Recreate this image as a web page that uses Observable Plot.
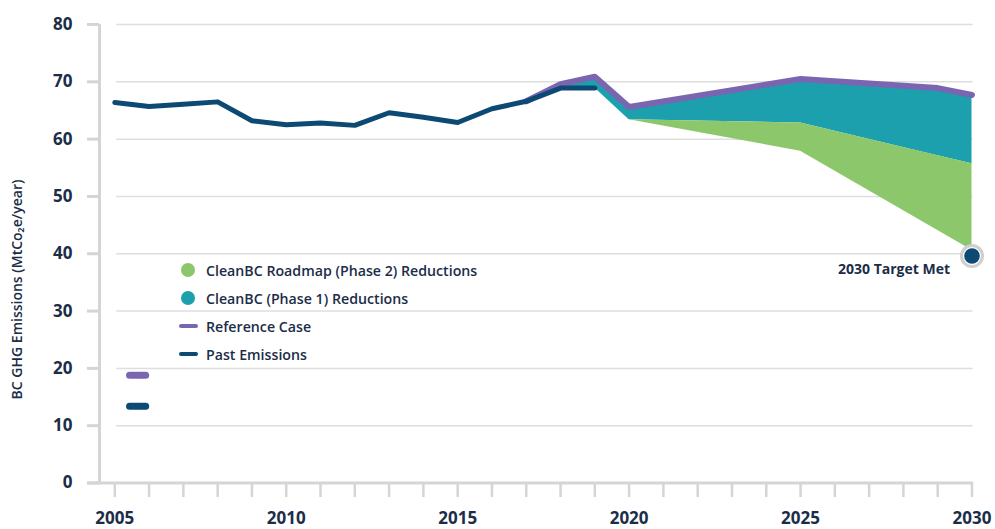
<!DOCTYPE html>
<html>
<head>
<meta charset="utf-8">
<script src="https://cdn.jsdelivr.net/npm/d3@7"></script>
<script src="https://cdn.jsdelivr.net/npm/@observablehq/plot@0.6"></script>
<style>
  html, body { margin: 0; padding: 0; background: #fff; }
  #wrap { position: relative; width: 995px; height: 529px; font-family: "Open Sans", sans-serif; }
  #legend { position: absolute; left: 178px; top: 256px; color: #1c2d48; font-size: 14.2px; font-weight: 600; }
  .row { display: flex; align-items: center; height: 28px; }
  .sw { width: 20px; display: flex; justify-content: center; margin-right: 8px; }
  .dot { width: 14px; height: 14px; border-radius: 50%; }
  .ln { width: 19px; height: 4px; border-radius: 2px; }
</style>
</head>
<body>
<div id="wrap"></div>
<script>
// ---- data ----
const pastYears = [2005, 2006, 2007, 2008, 2009, 2010, 2011, 2012, 2013, 2014, 2015, 2016, 2017, 2018, 2019];
const pastValues = [66.4, 65.7, 66.1, 66.5, 63.2, 62.5, 62.8, 62.4, 64.6, 63.8, 62.9, 65.3, 66.6, 68.9, 68.9];

const refYears = [2017, 2018, 2019, 2020, 2025, 2029, 2030];
const refValues = [66.6, 69.6, 70.9, 65.6, 70.5, 68.9, 67.7];
const phase1Values = [66.6, 68.8, 68.9, 63.4, 62.8, 57.1, 55.7]; // lower edge of Phase 1 reductions

const phase2Years = [2020, 2025, 2030];
const phase2Top = [63.4, 62.8, 55.7];
const phase2Values = [63.4, 57.9, 40.6];

const targetYear = [2030];
const targetValue = [39.6];
const targetLabel = ["2030 Target Met"];

const strayRefX = [2005.43, 2005.9];
const strayRefY = [18.8, 18.8];
const strayPastX = [2005.43, 2005.9];
const strayPastY = [13.4, 13.4];

const yTicks = [0, 10, 20, 30, 40, 50, 60, 70, 80];
const gridTicks = [10, 20, 30, 40, 50, 60, 70, 80];
const xTicks = d3.range(2005, 2031);
const yTitle = "BC GHG Emissions (MtCo\u2082e/year)";

const legendItems = [
  {label: "CleanBC Roadmap (Phase 2) Reductions", type: "dot", color: "#8dc76b"},
  {label: "CleanBC (Phase 1) Reductions", type: "dot", color: "#1ca0ad"},
  {label: "Reference Case", type: "line", color: "#7a66b0"},
  {label: "Past Emissions", type: "line", color: "#0c4a74"}
];

// ---- tables ----
const past = pastYears.map((x, i) => ({x, y: pastValues[i]}));
const ref = refYears.map((x, i) => ({x, y: refValues[i], y1: phase1Values[i]}));
const p2 = phase2Years.map((x, i) => ({x, y1: phase2Values[i], y2: phase2Top[i]}));
const target = targetYear.map((x, i) => ({x, y: targetValue[i], label: targetLabel[i]}));
const strayRef = strayRefX.map((x, i) => ({x, y: strayRefY[i]}));
const strayPast = strayPastX.map((x, i) => ({x, y: strayPastY[i]}));

const navy = "#0c4a74", purple = "#7a66b0", teal = "#1ca0ad", green = "#8dc76b";
const axisGrey = "#d5d5d5", textCol = "#1c2d48";

const chart = Plot.plot({
  width: 995,
  height: 529,
  marginLeft: 114.3,
  marginRight: 23.5,
  marginTop: 24,
  marginBottom: 46.5,
  style: {fontFamily: "'Open Sans', sans-serif", background: "#fff", overflow: "visible"},
  x: {domain: [2005, 2030]},
  y: {domain: [0, 80]},
  marks: [
    Plot.ruleY(gridTicks, {stroke: "#dedede", strokeWidth: 1.5, insetLeft: 2, insetRight: -1}),
    Plot.ruleX([2005], {y1: 0, y2: 80, dx: -15.3, stroke: axisGrey, strokeWidth: 3}),
    Plot.ruleY([0], {stroke: axisGrey, strokeWidth: 3, insetLeft: -27, insetRight: -1.5}),
    Plot.axisY({ticks: yTicks, tickSize: 12, tickPadding: 15, dx: -15.3, stroke: axisGrey, strokeWidth: 3,
      fill: textCol, fontSize: 17, fontWeight: 700, label: null}),
    Plot.axisX({ticks: xTicks, tickSize: 14.5, tickPadding: 14, stroke: axisGrey, strokeWidth: 2.5,
      tickFormat: d => d % 5 === 0 ? String(d) : "", fill: textCol, fontSize: 17, fontWeight: 700, label: null}),
    Plot.areaY(ref, {x: "x", y1: "y1", y2: "y", fill: teal}),
    Plot.areaY(p2, {x: "x", y1: "y1", y2: "y2", fill: green}),
    Plot.line(ref, {x: "x", y: "y", stroke: purple, strokeWidth: 6, strokeLinecap: "round", strokeLinejoin: "round"}),
    Plot.line(past, {x: "x", y: "y", stroke: navy, strokeWidth: 5, strokeLinecap: "round", strokeLinejoin: "round"}),
    Plot.line(strayRef, {x: "x", y: "y", stroke: purple, strokeWidth: 7, strokeLinecap: "round"}),
    Plot.line(strayPast, {x: "x", y: "y", stroke: navy, strokeWidth: 7, strokeLinecap: "round"}),
    Plot.dot(target, {x: "x", y: "y", r: 10.5, fill: "#fff", stroke: "#cfcfcf", strokeWidth: 3}),
    Plot.dot(target, {x: "x", y: "y", r: 7.8, fill: navy}),
    Plot.text(target, {x: "x", y: "y", text: "label", textAnchor: "end", dx: -22, dy: 13, fill: textCol,
      fontSize: 14, fontWeight: 700})
  ]
});

const wrap = document.getElementById("wrap");
wrap.appendChild(chart);

// y-axis title
d3.select(chart).append("text")
  .attr("transform", "translate(18,289.5) rotate(-90)")
  .attr("text-anchor", "middle")
  .attr("dominant-baseline", "middle")
  .attr("fill", textCol)
  .attr("font-size", 14)
  .attr("font-weight", 600)
  .text(yTitle);

// legend
const legend = d3.select(wrap).append("div").attr("id", "legend");
legendItems.forEach(it => {
  const row = legend.append("div").attr("class", "row");
  row.append("div").attr("class", "sw")
    .append("div").attr("class", it.type === "dot" ? "dot" : "ln").style("background", it.color);
  row.append("span").text(it.label);
});
</script>
</body>
</html>
